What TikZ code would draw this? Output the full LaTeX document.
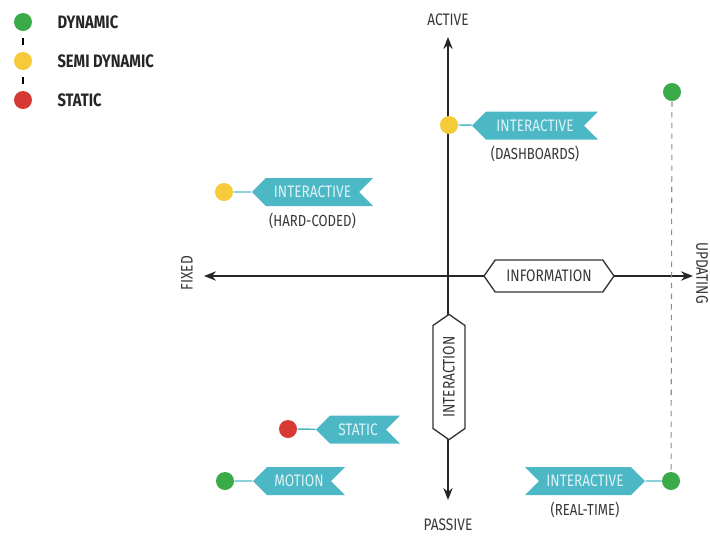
\documentclass[tikz,border=0pt]{standalone}
\usepackage{fontspec}
\newfontfamily\condfont[FakeStretch=0.82]{Fira Sans}
\usetikzlibrary{positioning,shapes.symbols,arrows.meta}

\definecolor{bannerteal}{RGB}{76,184,198}
\definecolor{bannertext}{RGB}{222,243,246}
\definecolor{dotgreen}{RGB}{59,170,72}
\definecolor{dotyellow}{RGB}{245,203,58}
\definecolor{dotred}{RGB}{214,58,52}
\definecolor{labelgray}{RGB}{55,55,55}

\tikzset{every picture/.style={line width=0.75pt}}
\tikzset{
  dot/.style={circle,minimum size=13.5pt,inner sep=0pt},
  bannerleft/.style={shape=signal,signal to=west,signal from=east,signal pointer angle=90,
    fill=bannerteal,text=bannertext,minimum height=21pt,inner xsep=4pt,font=\condfont\fontsize{12.5}{14}\selectfont},
  bannerright/.style={bannerleft,signal to=east,signal from=west},
  hexbox/.style={shape=signal,signal to=west and east,signal pointer angle=110,draw=black!80,
    line width=1pt,fill=white,minimum height=24pt,font=\condfont\fontsize{12.5}{14}\selectfont,text=labelgray},
  sublabel/.style={font=\condfont\fontsize{12}{14}\selectfont,text=labelgray,inner sep=0.75pt},
  axislabel/.style={font=\condfont\fontsize{12.5}{14}\selectfont,text=labelgray,inner sep=0.75pt},
  legendtext/.style={font=\condfont\bfseries\fontsize{13.5}{15}\selectfont,text=black!85,anchor=west,inner sep=0.75pt},
  axis/.style={line width=1.2pt,draw=black!85,{Stealth[length=9pt,width=7pt]}-{Stealth[length=9pt,width=7pt]}},
  tie/.style={draw=bannerteal,line width=1pt},
}

\begin{document}
\begin{tikzpicture}[x=0.75pt,y=0.75pt,yscale=-1,xscale=1]
\path[use as bounding box] (0,0) rectangle (710,537);

%Legend
\node[dot,fill=dotgreen] (lgGreen) at (23,22) {};
\node[dot,fill=dotyellow] (lgYellow) at (23,61) {};
\node[dot,fill=dotred] (lgRed) at (23,100) {};
\draw[line width=2pt,shorten <=5pt,shorten >=5pt] (lgGreen) -- (lgYellow);
\draw[line width=2pt,shorten <=5pt,shorten >=5pt] (lgYellow) -- (lgRed);
% Text Node
\node[legendtext] (lgDyn) at (56,22) {DYNAMIC};
% Text Node
\node[legendtext] (lgSemi) at (56,61) {SEMI DYNAMIC};
% Text Node
\node[legendtext] (lgStat) at (56,100) {STATIC};

%Axes
\coordinate (fixedEnd) at (204,276);
\coordinate (updEnd) at (693,276);
\coordinate (activeEnd) at (448,37);
\coordinate (passiveEnd) at (448,500);
\draw[axis] (fixedEnd) -- (updEnd);
\draw[axis] (passiveEnd) -- (activeEnd);

% Text Node
\node[axislabel] (active) at (448,20) {ACTIVE};
% Text Node
\node[axislabel] (passive) at (448,525) {PASSIVE};
% Text Node
\node[axislabel,rotate=90] (fixed) at (187,273) {FIXED};
% Text Node
\node[axislabel,rotate=-90] (updating) at (702,273) {UPDATING};

%Hexagons on the axes
\node[hexbox,minimum width=97.5pt] (info) at (549,276) {INFORMATION};
\node[hexbox,rotate=90,minimum width=94pt] (interaction) at (449,377) {INTERACTION};

%Dots
\node[dot,fill=dotgreen] (dynTop) at (672,92) {};
\node[dot,fill=dotgreen] (dynReal) at (671,481) {};
\node[dot,fill=dotyellow] (semiDash) at (449,125) {};
\node[dot,fill=dotyellow] (semiHard) at (224,192) {};
\node[dot,fill=dotred] (statDot) at (288,429) {};
\node[dot,fill=dotgreen] (motionDot) at (225,481) {};

%Dashed guide
\draw[black!45,line width=0.8pt,dash pattern={on 4pt off 4pt}] (dynTop) -- (dynReal);

%Banners
\node[bannerleft,minimum width=94.5pt] (bDash) at (535,125.5) {INTERACTIVE};
\node[bannerleft,minimum width=91pt] (bHard) at (312.5,192) {INTERACTIVE};
\node[bannerleft,minimum width=63pt] (bStatic) at (358,429.5) {STATIC};
\node[bannerleft,minimum width=69pt] (bMotion) at (299,481) {MOTION};
\node[bannerright,minimum width=90pt] (bReal) at (585,481) {INTERACTIVE};

%Ties
\draw[tie] (semiDash) -- (bDash);
\draw[tie] (semiHard) -- (bHard);
\draw[tie] (statDot) -- (bStatic);
\draw[tie] (motionDot) -- (bMotion);
\draw[tie] (bReal) -- (dynReal);

% Text Node
\node[sublabel,below=3.5pt of bDash] (subDash) {(DASHBOARDS)};
% Text Node
\node[sublabel,below=3.5pt of bHard] (subHard) {(HARD-CODED)};
% Text Node
\node[sublabel,below=3.5pt of bReal] (subReal) {(REAL-TIME)};

\end{tikzpicture}
\end{document}
